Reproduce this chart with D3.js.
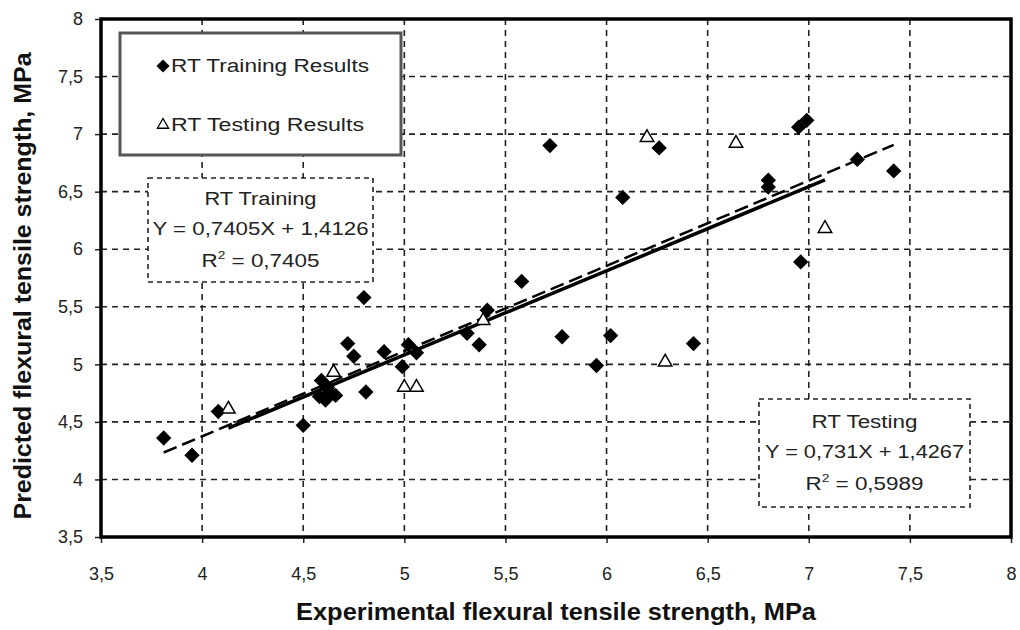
<!DOCTYPE html>
<html lang="en">
<head>
<meta charset="UTF-8">
<title>RT flexural tensile strength</title>
<script src="https://d3js.org/d3.v7.min.js"></script>
<style>
    body { margin: 0; background: #fff; }
    svg { display: block; }
    text { font-family: "Liberation Sans", Arial, sans-serif; fill: #222; }
    .tick text { font-size: 18px; }
    .title { font-family: "Liberation Sans Narrow", "Arial Narrow", sans-serif; font-weight: bold; font-size: 23px; fill: #111; }
    .grid line { stroke: #222; stroke-width: 1.6; stroke-dasharray: 6 5; }
    .note { font-size: 18px; }
</style>
</head>
<body>
<script>
// training results (diamonds)
const trainX = [3.81, 3.95, 4.08, 4.50, 4.59, 4.58, 4.61, 4.63, 4.66, 4.62, 4.72, 4.75, 4.81, 4.80, 4.90, 4.99, 5.02, 5.06,
                5.31, 5.37, 5.41, 5.58, 5.72, 5.78, 5.95, 6.02, 6.08, 6.26, 6.43, 6.80, 6.80, 6.95, 6.99, 6.96, 7.24, 7.42];
const trainY = [4.36, 4.21, 4.59, 4.47, 4.86, 4.72, 4.69, 4.76, 4.73, 4.80, 5.18, 5.07, 4.76, 5.58, 5.11, 4.98, 5.17, 5.10,
                5.27, 5.17, 5.47, 5.72, 6.90, 5.24, 4.99, 5.25, 6.45, 6.88, 5.18, 6.60, 6.54, 7.06, 7.12, 5.89, 6.78, 6.68];
// testing results (triangles)
const testX = [4.13, 4.65, 5.00, 5.06, 5.39, 6.20, 6.29, 6.64, 7.08];
const testY = [4.61, 4.93, 4.80, 4.80, 5.38, 6.97, 5.02, 6.92, 6.18];
// fitted lines
const trainFit = {a: 0.7405, b: 1.4126};
const testFit = {a: 0.731, b: 1.4267};
const ticks = [3.5, 4, 4.5, 5, 5.5, 6, 6.5, 7, 7.5, 8];

const width = 1020, height = 630;
const svg = d3.select("body").append("svg")
    .attr("width", width).attr("height", height);

const x = d3.scaleLinear().domain([3.5, 8]).range([101, 1011]);
const y = d3.scaleLinear().domain([3.5, 8]).range([537, 19]);
const fmt = d => String(d).replace(".", ",");

// grid
const inner = ticks.slice(1, -1);
svg.append("g").attr("class", "grid")
    .selectAll("line.v").data(inner).enter().append("line")
    .attr("x1", d => x(d)).attr("x2", d => x(d))
    .attr("y1", y(8)).attr("y2", y(3.5));
svg.append("g").attr("class", "grid")
    .selectAll("line.h").data(inner).enter().append("line")
    .attr("x1", x(3.5)).attr("x2", x(8))
    .attr("y1", d => y(d)).attr("y2", d => y(d));

// axes
const xAxis = svg.append("g").attr("transform", `translate(0,${y(3.5)})`)
    .call(d3.axisBottom(x).tickValues(ticks).tickFormat(fmt).tickSize(6).tickPadding(24));
const yAxis = svg.append("g").attr("transform", `translate(${x(3.5)},0)`)
    .call(d3.axisLeft(y).tickValues(ticks).tickFormat(fmt).tickSize(6).tickPadding(12));
[xAxis, yAxis].forEach(g => {
    g.select(".domain").remove();
    g.selectAll(".tick line").attr("stroke", "#222").attr("stroke-width", 1.5);
    g.selectAll(".tick text").attr("fill", "#222");
});

// frame
svg.append("rect")
    .attr("x", x(3.5)).attr("y", y(8))
    .attr("width", x(8) - x(3.5)).attr("height", y(3.5) - y(8))
    .attr("fill", "none").attr("stroke", "#000").attr("stroke-width", 3.5);

// trend lines
const line = d3.line().x(d => x(d[0])).y(d => y(d[1]));
const trExt = d3.extent(trainX), teExt = d3.extent(testX);
svg.append("path")
    .datum(trExt.map(v => [v, trainFit.a * v + trainFit.b]))
    .attr("d", line).attr("stroke", "#000").attr("stroke-width", 2.5)
    .attr("stroke-dasharray", "14 6").attr("fill", "none");
svg.append("path")
    .datum(teExt.map(v => [v, testFit.a * v + testFit.b]))
    .attr("d", line).attr("stroke", "#000").attr("stroke-width", 3.5).attr("fill", "none");

// points
const diamond = d3.symbol().type(d3.symbolDiamond2).size(150);
const triangle = d3.symbol().type(d3.symbolTriangle2).size(130);
svg.append("g").selectAll("path").data(trainX.map((v, i) => [v, trainY[i]])).enter()
    .append("path").attr("d", diamond)
    .attr("transform", d => `translate(${x(d[0])},${y(d[1])})`)
    .attr("fill", "#000");
svg.append("g").selectAll("path").data(testX.map((v, i) => [v, testY[i]])).enter()
    .append("path").attr("d", triangle)
    .attr("transform", d => `translate(${x(d[0])},${y(d[1])})`)
    .attr("fill", "#fff").attr("stroke", "#000").attr("stroke-width", 1.5);

// legend
const lg = svg.append("g");
lg.append("rect").attr("x", 120).attr("y", 33).attr("width", 281).attr("height", 122)
    .attr("fill", "#fff").attr("stroke", "#555").attr("stroke-width", 3);
lg.append("path").attr("d", d3.symbol().type(d3.symbolDiamond2).size(110))
    .attr("transform", "translate(163,66)").attr("fill", "#000");
lg.append("text").attr("class", "note").attr("x", 171).attr("y", 72)
    .attr("textLength", 198).attr("lengthAdjust", "spacingAndGlyphs").text("RT Training Results");
lg.append("path").attr("d", d3.symbol().type(d3.symbolTriangle2).size(90))
    .attr("transform", "translate(163,125)").attr("fill", "#fff").attr("stroke", "#000").attr("stroke-width", 1.3);
lg.append("text").attr("class", "note").attr("x", 171).attr("y", 131)
    .attr("textLength", 193).attr("lengthAdjust", "spacingAndGlyphs").text("RT Testing Results");

// equation boxes
function eqBox(x0, y0, w, h, lines, lens, off) {
    const g = svg.append("g");
    g.append("rect").attr("x", x0).attr("y", y0).attr("width", w).attr("height", h)
        .attr("fill", "#fff").attr("stroke", "#222").attr("stroke-width", 1.6)
        .attr("stroke-dasharray", "5 4");
    const cx = x0 + w / 2;
    g.append("text").attr("class", "note").attr("x", cx).attr("y", y0 + 27 + off)
        .attr("text-anchor", "middle")
        .attr("textLength", lens[0]).attr("lengthAdjust", "spacingAndGlyphs").text(lines[0]);
    g.append("text").attr("class", "note").attr("x", cx).attr("y", y0 + 57 + off)
        .attr("text-anchor", "middle")
        .attr("textLength", lens[1]).attr("lengthAdjust", "spacingAndGlyphs").text(lines[1]);
    const t = g.append("text").attr("class", "note").attr("x", cx).attr("y", y0 + 89 + off)
        .attr("text-anchor", "middle")
        .attr("textLength", lens[2]).attr("lengthAdjust", "spacingAndGlyphs");
    t.append("tspan").text("R");
    t.append("tspan").attr("dy", -8).attr("font-size", 11).text("2");
    t.append("tspan").attr("dy", 8).text(" = " + lines[2]);
}
eqBox(148, 178, 225, 104, ["RT Training", "Y = 0,7405X + 1,4126", "0,7405"], [112, 216, 118], 0);
eqBox(759, 399, 211, 108, ["RT Testing", "Y = 0,731X + 1,4267", "0,5989"], [106, 199, 118], 2);

// axis titles
svg.append("text").attr("class", "title")
    .attr("x", 556).attr("y", 620).attr("text-anchor", "middle")
    .attr("textLength", 520).attr("lengthAdjust", "spacingAndGlyphs")
    .text("Experimental flexural tensile strength, MPa");
svg.append("text").attr("class", "title")
    .attr("transform", "translate(31,286) rotate(-90)").attr("text-anchor", "middle")
    .attr("textLength", 467).attr("lengthAdjust", "spacingAndGlyphs")
    .text("Predicted flexural tensile strength, MPa");
</script>
</body>
</html>
